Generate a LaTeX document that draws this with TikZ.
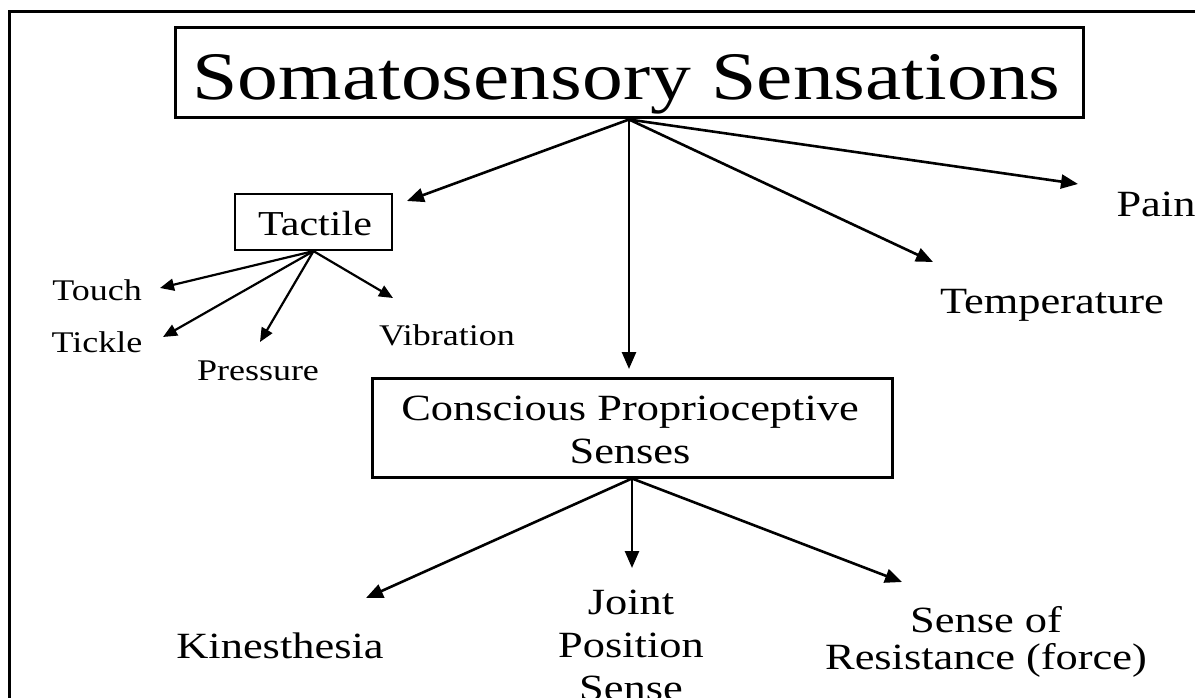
\documentclass[tikz,border=0pt]{standalone}
\usepackage{fontspec}
\setmainfont{Liberation Serif}
\usepackage{graphicx}
\usetikzlibrary{arrows.meta}
\newcommand{\wide}[1]{\scalebox{1.2}[1]{#1}}
\newcommand{\widestack}[1]{\scalebox{1.2}[1]{\begin{tabular}[t]{@{}c@{}}#1\end{tabular}}}
\begin{document}
\begin{tikzpicture}[x=1pt,y=-1pt,
  txt/.style={inner sep=0pt, anchor=base},
  lbl/.style={txt, font=\fontsize{37}{43}\selectfont},
  small/.style={txt, font=\fontsize{30}{36}\selectfont},
  boxnode/.style={draw, inner sep=0pt},
  arr/.style={line width=2.6pt, -{Triangle[length=17pt,width=14pt]}},
  sarr/.style={line width=2.2pt, -{Triangle[length=14pt,width=12pt]}}]
\useasboundingbox (0,0) rectangle (1195,698);
\fill[white] (0,0) rectangle (1195,698);
% outer frame (cut off at right and bottom)
\draw[line width=3pt, line join=miter] (9,700) -- (9,12) -- (1197,12);

% boxes
\node[boxnode, line width=3pt, minimum width=908pt, minimum height=90pt] (title) at (629,73) {};
\node[boxnode, line width=2.2pt, minimum width=157pt, minimum height=56pt] (tactile) at (313.5,222) {};
\node[boxnode, line width=3pt, minimum width=520pt, minimum height=99pt] (cps) at (632,427.5) {};

% texts
\node[txt, font=\fontsize{68}{80}\selectfont] (titletext) at (626.5,100) {\wide{Somatosensory Sensations}};
\node[txt, font=\fontsize{35}{42}\selectfont] (tactiletext) at (315,235) {\wide{Tactile}};
\node[lbl] (cpstext) at (630,420) {\widestack{Conscious Proprioceptive\\Senses}};
\node[small] (touch) at (97,300) {\wide{Touch}};
\node[small] (tickle) at (97,352) {\wide{Tickle}};
\node[small] (pressure) at (258,380) {\wide{Pressure}};
\node[small] (vibration) at (447,345) {\wide{Vibration}};
\node[lbl] (pain) at (1156,217) {\wide{Pain}};
\node[lbl] (temperature) at (1052,313) {\wide{Temperature}};
\node[lbl] (kinesthesia) at (280,658) {\wide{Kinesthesia}};
\node[lbl] (joint) at (631,614) {\widestack{Joint\\Position\\Sense}};
\node[txt, font=\fontsize{37}{37}\selectfont] (resistance) at (986,632) {\widestack{Sense of\\Resistance (force)}};

% arrow tips
\coordinate (tipTac) at (407,201);
\coordinate (tipCps) at (629,369);
\coordinate (tipTemp) at (933,262);
\coordinate (tipPain) at (1078,184);
\coordinate (tipTouch) at (160,288);
\coordinate (tipTickle) at (163,337);
\coordinate (tipPress) at (260,342);
\coordinate (tipVib) at (393,298);
\coordinate (tipKin) at (366,598);
\coordinate (tipJoint) at (632,568);
\coordinate (tipRes) at (902,582);

% connectors
\draw[arr] (title.south) -- (tipTac);
\draw[arr] (title.south) -- (tipCps);
\draw[arr] (title.south) -- (tipTemp);
\draw[arr] (title.south) -- (tipPain);
\draw[sarr] (tactile.south) -- (tipTouch);
\draw[sarr] (tactile.south) -- (tipTickle);
\draw[sarr] (tactile.south) -- (tipPress);
\draw[sarr] (tactile.south) -- (tipVib);
\draw[arr] (cps.south) -- (tipKin);
\draw[arr] (cps.south) -- (tipJoint);
\draw[arr] (cps.south) -- (tipRes);
\end{tikzpicture}
\end{document}
